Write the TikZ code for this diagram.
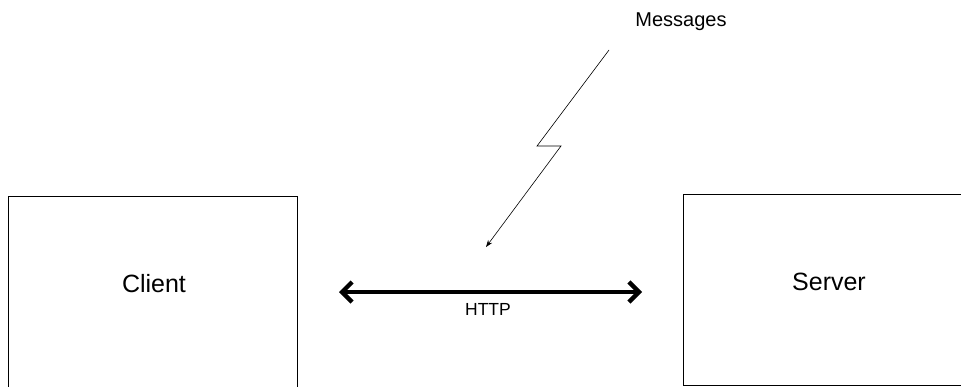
\documentclass[tikz,border=0pt]{standalone}
\usepackage{fontspec}
\setmainfont{Liberation Sans}
\usetikzlibrary{arrows.meta}
\begin{document}
\begin{tikzpicture}[x=1pt,y=-1pt,
  box/.style={draw,line width=0.8pt,inner sep=0pt,anchor=north west},
  biglabel/.style={anchor=base,font=\fontsize{25}{30}\selectfont},
  msglabel/.style={anchor=base,font=\fontsize{20}{24}\selectfont},
  httplabel/.style={anchor=base,font=\fontsize{17.5}{21}\selectfont},
  link/.style={line width=4.6pt,{Straight Barb[length=10pt,width=20pt,line width=4.4pt]}-{Straight Barb[length=10pt,width=20pt,line width=4.4pt]}},
  bolt/.style={line width=0.6pt,-{Stealth[length=7pt,width=5pt]}}]
  \useasboundingbox (0,0) rectangle (961,386);
  \clip (0,0) rectangle (961,386);
  % the two hosts
  \node[box,minimum width=289pt,minimum height=200pt] (client) at (8,196) {};
  \node[box,minimum width=320pt,minimum height=191pt] (server) at (683,194) {};
  \node[biglabel] (clientlbl) at (154,292) {Client};
  \node[biglabel] (serverlbl) at (829,290) {Server};
  % the HTTP link between them
  \coordinate (linkL) at (339,292);
  \coordinate (linkR) at (642,292);
  \draw[link] (linkL) -- (linkR);
  \node[httplabel] (http) at (488,315) {HTTP};
  % lightning bolt carrying the messages
  \node[msglabel] (msgs) at (681,26) {Messages};
  \coordinate (boltA) at (609,50);
  \coordinate (boltB) at (537,146);
  \coordinate (boltC) at (561,146);
  \coordinate (boltEnd) at (486,247);
  \draw[bolt] (boltA) -- (boltB) -- (boltC) -- (boltEnd);
\end{tikzpicture}
\end{document}
